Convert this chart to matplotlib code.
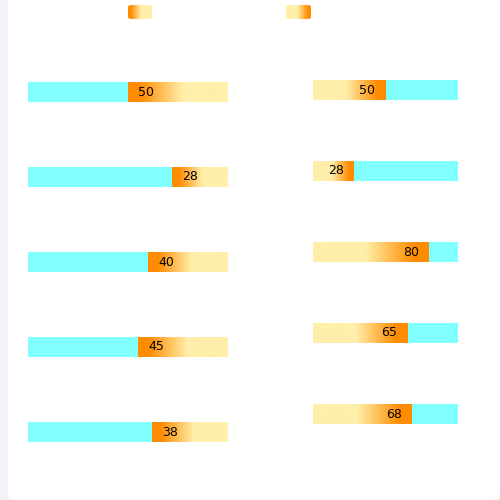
import numpy as np
import matplotlib
matplotlib.use("Agg")
import matplotlib.pyplot as plt
from matplotlib.colors import LinearSegmentedColormap
from matplotlib.patches import FancyBboxPatch

left_values = [50, 28, 40, 45, 38]
right_values = [50, 28, 80, 65, 68]
max_value = 100

ORANGE = "#ff8c00"
LIGHT = "#ffefaa"
CYAN = "#80ffff"
cmap_l = LinearSegmentedColormap.from_list("l", [(0, ORANGE), (0.12, ORANGE), (0.55, LIGHT), (1, LIGHT)])
cmap_r = LinearSegmentedColormap.from_list("r", [(0, LIGHT), (0.45, LIGHT), (0.88, ORANGE), (1, ORANGE)])
grad = np.linspace(0, 1, 256).reshape(1, -1)

W = H = 500
fig = plt.figure(figsize=(5, 5), dpi=100, facecolor="#f2f3f8")
bg = fig.add_axes([8 / W, 0, 1 - 8 / W, 1])
bg.set_axis_off()
bg.add_patch(FancyBboxPatch((0, 0), 1, 1.05, boxstyle="round,pad=0,rounding_size=0.015",
                            transform=bg.transAxes, fc="white", ec="none"))

def px_axes(x0, x1, y0, y1):
    return fig.add_axes([x0 / W, 1 - y1 / H, (x1 - x0) / W, (y1 - y0) / H])

def panel(ax, values, from_right, bh, cmap):
    n = len(values)
    ax.set_xlim(0, max_value)
    ax.set_ylim(n - 0.5, -0.5)
    ax.set_axis_off()
    for i, v in enumerate(values):
        ax.barh(i, max_value, height=bh, color=CYAN, zorder=1)
        if from_right:
            x0, x1 = max_value - v, max_value
        else:
            x0, x1 = 0, v
        ax.imshow(grad, cmap=cmap, extent=[x0, x1, i + bh / 2, i - bh / 2],
                  aspect="auto", zorder=2, interpolation="bilinear")
        if from_right:
            ax.annotate(str(v), (x0, i), xytext=(18, 0), textcoords="offset points" if False else "offset pixels",
                        ha="center", va="center", fontsize=9, zorder=3)
        else:
            ax.annotate(str(v), (x1, i), xytext=(-18, 0), textcoords="offset pixels",
                        ha="center", va="center", fontsize=9, zorder=3)
    ax.set_xlim(0, max_value)
    ax.set_ylim(n - 0.5, -0.5)

axl = px_axes(28, 228, 49.5, 474.5)
panel(axl, left_values, True, 20 / 85, cmap_l)
axr = px_axes(313, 458, 49.5, 454.5)
panel(axr, right_values, False, 20 / 81, cmap_r)

for (x0, x1), cm in [((128, 152), cmap_l), ((286, 311), cmap_r)]:
    la = px_axes(x0, x1, 5, 19)
    la.set_axis_off()
    im = la.imshow(grad, cmap=cm, extent=[0, 1, 0, 1], aspect="auto", interpolation="bilinear")
    p = FancyBboxPatch((0, 0), 1, 1, boxstyle="round,pad=0,rounding_size=0.15",
                       transform=la.transAxes, fc="none", ec="none")
    la.add_patch(p)
    im.set_clip_path(p)

fig.savefig("out.png", dpi=100, facecolor=fig.get_facecolor())
